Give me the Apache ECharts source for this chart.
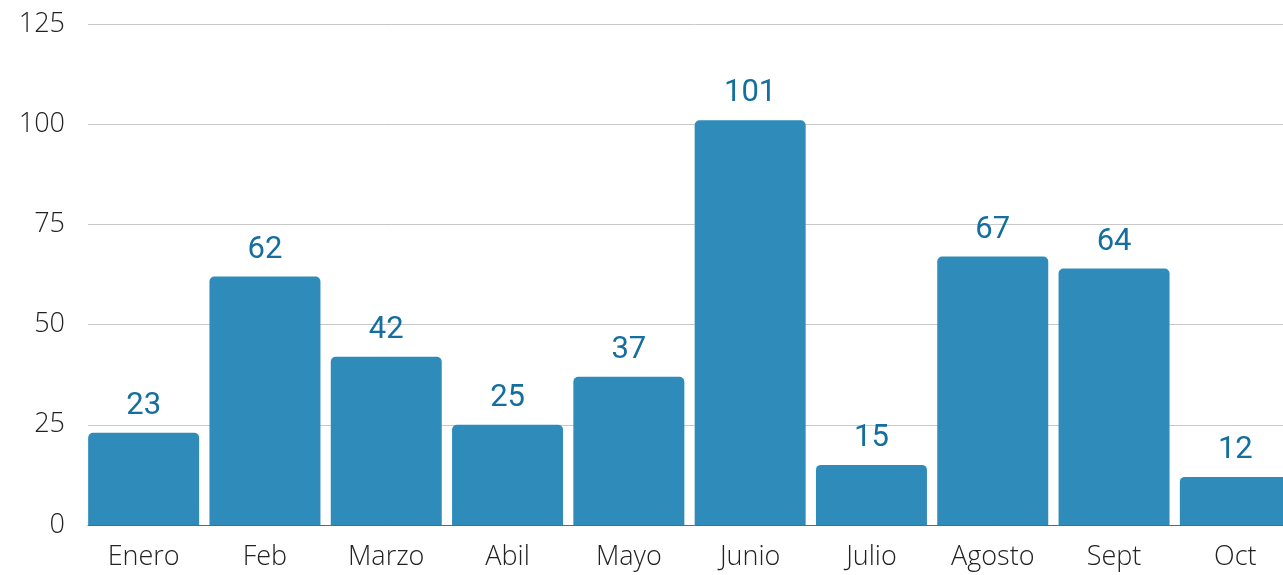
<!DOCTYPE html>
<html><head><meta charset="utf-8">
<script src="https://cdn.jsdelivr.net/npm/echarts@6/dist/echarts.min.js"></script>
<style>html,body{margin:0;padding:0;background:#fff;overflow:hidden;width:1283px;height:575px}#c{width:1301px;height:575px}</style>
</head><body><div id="c"></div>
<script>
const categories = ['Enero','Feb','Marzo','Abil','Mayo','Junio','Julio','Agosto','Sept','Oct'];
const values = [23,62,42,25,37,101,15,67,64,12];
const yTicks = {min:0, max:125, interval:25};
const chart = echarts.init(document.getElementById('c'), null, {renderer:'canvas'});
const lbl = {fontFamily:'Open Sans', fontWeight:300, fontSize:27, color:'#222'};
chart.setOption({
  animation:false,
  grid:[
    {left:88, top:24, right:0, bottom:50, containLabel:false},
    {left:83, top:24, width:1213, bottom:50, containLabel:false}
  ],
  xAxis:[
    {type:'value', gridIndex:0, min:0, max:1, axisLine:{show:true, onZero:false, lineStyle:{color:'#666', width:1}},
      axisTick:{show:false}, axisLabel:{show:false}, splitLine:{show:false}},
    {type:'category', gridIndex:1, data:categories, axisLine:{show:false}, axisTick:{show:false},
      axisLabel:Object.assign({margin:19}, lbl)}
  ],
  yAxis:[
    {type:'value', gridIndex:0, min:yTicks.min, max:yTicks.max, interval:yTicks.interval,
      axisLine:{show:false}, axisTick:{show:false},
      splitLine:{lineStyle:{color:'#c8c8c8', width:1}},
      axisLabel:Object.assign({margin:23}, lbl)},
    {type:'value', gridIndex:1, min:yTicks.min, max:yTicks.max, interval:yTicks.interval,
      show:false, splitLine:{show:false}}
  ],
  series:[{type:'bar', xAxisIndex:1, yAxisIndex:1, data:values, barCategoryGap:'8.5%',
    itemStyle:{color:'#2e8bba', borderRadius:[5,5,0,0]},
    label:{show:true, position:'top', distance:11, fontFamily:'Roboto', fontSize:31, color:'#146ea0'}}]
});
</script></body></html>
